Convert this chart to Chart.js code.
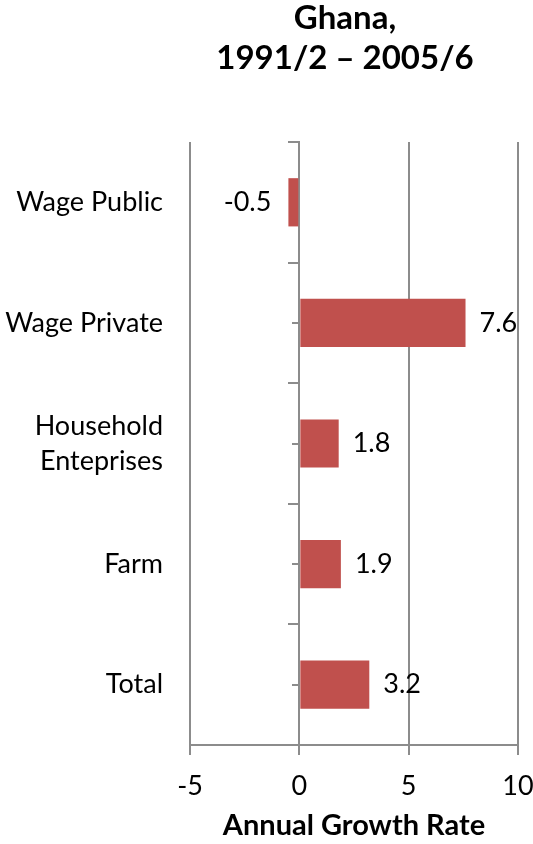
<!DOCTYPE html>
<html>
<head>
<meta charset="utf-8">
<script src="https://cdn.jsdelivr.net/npm/chart.js@4/dist/chart.umd.min.js"></script>
<style>
  body { margin: 0; background: #fff; }
  #wrap { position: relative; width: 533px; height: 844px; }
  #title {
    position: absolute; left: 195px; width: 300px; top: -4px;
    text-align: center; font-family: Lato, sans-serif; font-weight: bold;
    font-size: 33px; line-height: 40px; color: #000;
  }
</style>
</head>
<body>
<div id="wrap">
  <div id="title">Ghana,<br>1991/2 – 2005/6</div>
  <canvas id="growthChart"></canvas>
</div>
<script>
// values
const categories = ["Wage Public", "Wage Private", ["Household", "Enteprises"], "Farm", "Total"];
const growthRates = [-0.5, 7.6, 1.8, 1.9, 3.2];
const xTicks = [-5, 0, 5, 10];

const gridGrey = "#8c8c8c";
const barRed = "#C0504D";
const fontFamily = "Lato, sans-serif";

// draws the value next to each bar end
const valueLabels = {
    id: "valueLabels",
    afterDatasetsDraw(chart) {
        const ctx = chart.ctx;
        const meta = chart.getDatasetMeta(0);
        ctx.save();
        ctx.font = "27px " + fontFamily;
        ctx.fillStyle = "#000";
        ctx.textBaseline = "middle";
        meta.data.forEach(function(bar, i) {
            const v = growthRates[i];
            if (v < 0) {
                ctx.textAlign = "right";
                ctx.fillText(v.toFixed(1), bar.x - 17, bar.y);
            } else {
                ctx.textAlign = "left";
                ctx.fillText(v.toFixed(1), bar.x + 14, bar.y);
            }
        });
        ctx.restore();
    }
};

new Chart(document.getElementById("growthChart"), {
    type: "bar",
    data: {
        labels: categories,
        datasets: [{
            data: growthRates,
            backgroundColor: barRed,
            barPercentage: 0.4,
            categoryPercentage: 1,
            yAxisID: "y"
        }]
    },
    options: {
        indexAxis: "y",
        responsive: true,
        maintainAspectRatio: false,
        animation: false,
        layout: { padding: { top: 142, right: 15, left: 0, bottom: 0 } },
        plugins: {
            legend: { display: false },
            tooltip: { enabled: false }
        },
        scales: {
            x: {
                min: -5,
                max: 10,
                afterBuildTicks: function(scale) {
                    scale.ticks = xTicks.map(function(v) { return { value: v }; });
                },
                afterFit: function(scale) {
                    scale.height = 99;
                    scale.paddingLeft = 0;
                    scale.paddingRight = 0;
                },
                grid: { color: gridGrey, lineWidth: 2, tickLength: 10, drawTicks: true },
                border: { display: true, color: gridGrey, width: 2 },
                ticks: {
                    color: "#000",
                    font: { family: fontFamily, size: 27 },
                    padding: 15
                },
                title: {
                    display: true,
                    text: "Annual Growth Rate",
                    color: "#000",
                    font: { family: fontFamily, size: 29, weight: "bold" },
                    padding: { top: 4, bottom: 1 }
                }
            },
            y: {
                position: "left",
                afterFit: function(scale) { scale.width = 190; },
                grid: { display: false },
                border: { display: false },
                ticks: {
                    color: "#000",
                    font: { family: fontFamily, size: 27, lineHeight: 1.3 },
                    padding: 19
                }
            },
            // zero axis with tick marks between categories
            y2: {
                axis: "y",
                type: "category",
                position: { x: 0 },
                afterFit: function(scale) { scale.width = 0; },
                grid: { offset: true, drawOnChartArea: false, drawTicks: true, tickLength: 10, color: gridGrey, lineWidth: 2 },
                border: { display: true, color: gridGrey, width: 2 },
                ticks: { display: false }
            },
            // short minor ticks at category centres
            y3: {
                axis: "y",
                type: "category",
                position: { x: 0 },
                offset: true,
                z: 1,
                afterFit: function(scale) { scale.width = 0; },
                grid: { offset: false, drawOnChartArea: false, drawTicks: true, tickLength: 7, color: gridGrey, lineWidth: 2 },
                border: { display: false },
                ticks: { display: false }
            }
        }
    },
    plugins: [valueLabels]
});
</script>
</body>
</html>
